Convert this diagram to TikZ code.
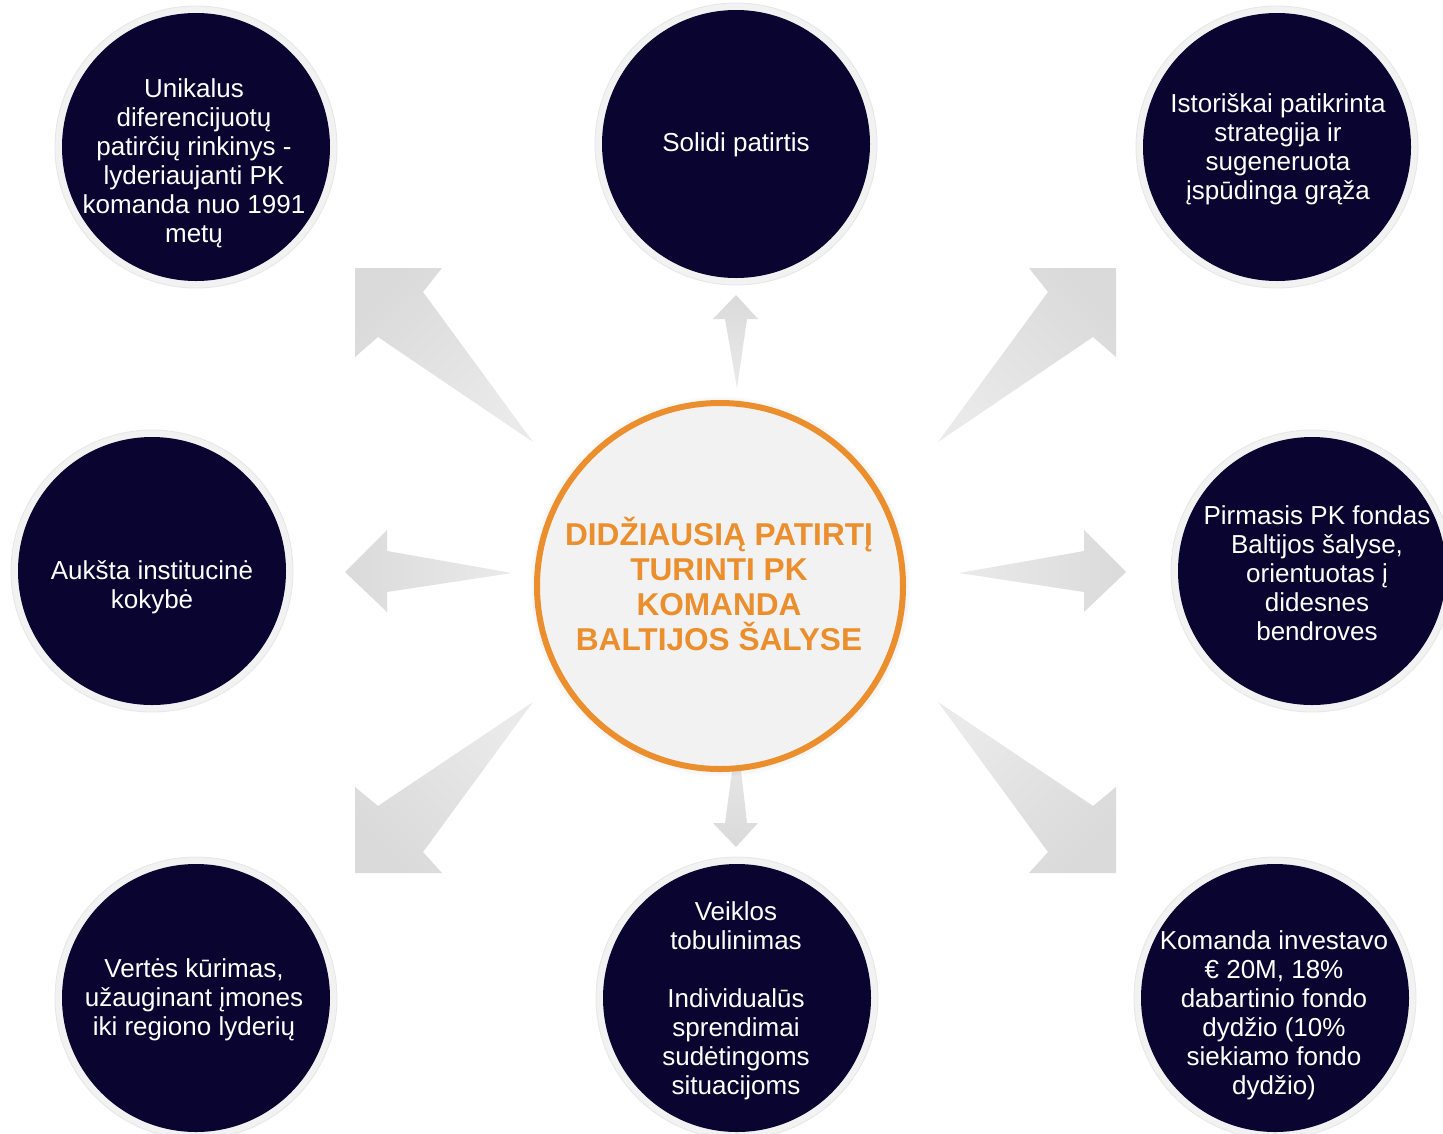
\documentclass[tikz,border=0pt]{standalone}
\usepackage{fontspec}
\setmainfont{Liberation Sans}
\usetikzlibrary{shadows}
\definecolor{navy}{HTML}{0A0530}
\definecolor{ringgray}{HTML}{F2F2F2}
\definecolor{ringedge}{HTML}{E6E6E6}
\definecolor{orng}{HTML}{EB8F2E}
\definecolor{corefill}{HTML}{F2F2F2}
\definecolor{arrdark}{HTML}{DADADA}
\definecolor{arrlight}{HTML}{EAEAEA}
\tikzset{
  ringbg/.style={circle, fill=ringgray, draw=ringedge, line width=0.8pt, minimum size=282pt, inner sep=0pt},
  bubble/.style={circle, fill=navy, minimum size=268pt, inner sep=0pt},
  txt/.style={text=white, font=\fontsize{26}{29}\selectfont, align=center, inner sep=0pt},
  blockarrow/.style={top color=arrdark, bottom color=arrlight, shading angle=#1},
}
\begin{document}
\begin{tikzpicture}[x=1pt,y=-1pt]
\useasboundingbox (0,0) rectangle (1443,1133);
\clip (0,0) rectangle (1443,1133);
\fill[white] (0,0) rectangle (1443,1133);

% block arrows
\shade[blockarrow=45] (533,442) -- (423,292) -- (442,268) -- (355,268) -- (355,357) -- (378,337) -- cycle;
\shade[blockarrow=0] (736,295) -- (758,319) -- (747,319) -- (737,388) -- (725,319) -- (713,319) -- cycle;
\shade[blockarrow=-45] (938,442) -- (1048,292) -- (1029,268) -- (1116,268) -- (1116,357) -- (1093,337) -- cycle;
\shade[blockarrow=90] (345,572) -- (387,530) -- (387,551) -- (512,573) -- (387,592) -- (387,612) -- cycle;
\shade[blockarrow=270] (1126,572) -- (1084,530) -- (1084,551) -- (959,573) -- (1084,592) -- (1084,612) -- cycle;
\shade[blockarrow=135] (533,702) -- (378,806) -- (355,787) -- (355,873) -- (442,873) -- (423,852) -- cycle;
\shade[blockarrow=225] (938,702) -- (1093,806) -- (1116,787) -- (1116,873) -- (1029,873) -- (1048,852) -- cycle;
\shade[blockarrow=180] (736,847) -- (758,823) -- (747,823) -- (737,735) -- (725,823) -- (713,823) -- cycle;

% central circle
\node[circle, minimum size=366pt, inner sep=0pt, draw=orng, line width=6pt, fill=corefill,
      circular drop shadow={shadow xshift=0pt, shadow yshift=0pt, shadow scale=1.04, fill=black, opacity=0.25}] (core) at (720,586) {};
\node[text=orng, font=\bfseries\fontsize{31.6}{34.8}\selectfont, align=center, inner sep=0pt] (coretxt) at (719,584)
  {DIDŽIAUSIĄ PATIRTĮ\\TURINTI PK\\KOMANDA\\BALTIJOS ŠALYSE};

% outer circles: rings
\node[ringbg] (tlr) at (196,147) {};
\node[ringbg] (tcr) at (736,144) {};
\node[ringbg] (trr) at (1277,147) {};
\node[ringbg] (mlr) at (152,571) {};
\node[ringbg] (mrr) at (1312,571) {};
\node[ringbg] (blr) at (196,998) {};
\node[ringbg] (bcr) at (737,998) {};
\node[ringbg] (brr) at (1275,998) {};

% outer circles: dark discs
\node[bubble] (tl) at (196,147) {};
\node[bubble] (tc) at (736,144) {};
\node[bubble] (tr) at (1277,147) {};
\node[bubble] (ml) at (152,571) {};
\node[bubble] (mr) at (1312,571) {};
\node[bubble] (bl) at (196,998) {};
\node[bubble] (bc) at (737,998) {};
\node[bubble] (br) at (1275,998) {};

% texts
\node[txt] (tlt) at (194,163) {Unikalus\\diferencijuotų\\patirčių rinkinys -\\lyderiaujanti PK\\komanda nuo 1991\\metų};
\node[txt] (tct) at (736,145) {Solidi patirtis};
\node[txt] (trt) at (1278,149) {Istoriškai patikrinta\\strategija ir\\sugeneruota\\įspūdinga grąža};
\node[txt] (mlt) at (152,587) {Aukšta institucinė\\kokybė};
\node[txt] (mrt) at (1317,573) {Pirmasis PK fondas\\Baltijos šalyse,\\orientuotas į\\didesnes\\bendroves};
\node[txt] (blt) at (194,1000) {Vertės kūrimas,\\užauginant įmones\\iki regiono lyderių};
\node[txt] (bct) at (736,1001) {Veiklos\\tobulinimas\\[29pt]Individualūs\\sprendimai\\sudėtingoms\\situacijoms};
\node[txt] (brt) at (1274,1015) {Komanda investavo\\€ 20M, 18\%\\dabartinio fondo\\dydžio (10\%\\siekiamo fondo\\dydžio)};
\end{tikzpicture}
\end{document}
